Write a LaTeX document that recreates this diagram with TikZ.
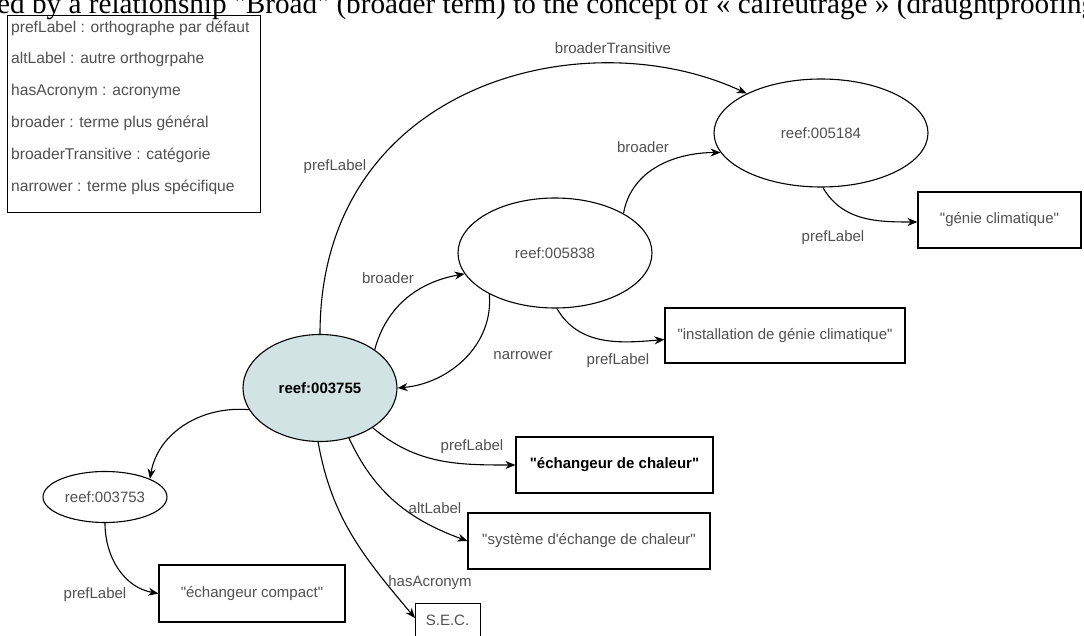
\documentclass[tikz,border=0pt]{standalone}
\usepackage{fontspec}
\setmainfont{Liberation Sans}[Ligatures=TeXOff]
\newfontfamily\pageserif{Liberation Serif}[Ligatures=TeXOff]
\usetikzlibrary{shapes.geometric}
\usetikzlibrary{arrows.meta}
\definecolor{conceptblue}{RGB}{210,227,227}
\definecolor{labelgray}{RGB}{80,80,80}

\begin{document}
\begin{tikzpicture}[x=1pt,y=1pt,
  concept/.style={draw, ellipse, line width=1.1pt, inner sep=0pt, text=labelgray, font=\fontsize{15}{17}\selectfont},
  literal/.style={draw, rectangle, line width=1.1pt, inner sep=0pt, text=labelgray, font=\fontsize{15}{17}\selectfont},
  rel/.style={line width=1.1pt, -{Stealth[length=10pt,width=8pt]}},
  rellabel/.style={text=labelgray, inner sep=0pt, font=\fontsize{15}{17}\selectfont}]
\useasboundingbox (0,0) rectangle (1084,-636);
\clip (0,0) rectangle (1084,-636);
\fill[white] (0,0) rectangle (1084,-636);

% line of the page above, cut by the frame
\node[anchor=base west, inner sep=0pt, font=\pageserif\fontsize{29.2}{30}\selectfont] (header) at (-3,-13.5) {ed by a relationship "Broad" (broader term) to the concept of « calfeutrage » (draughtproofing};

% legend
\node[draw, line width=1.1pt, anchor=north west, minimum width=253, minimum height=197, inner sep=0pt] (legend) at (7,-15) {};
\foreach \txt [count=\i] in {prefLabel : orthographe par défaut, altLabel : autre orthogrpahe, hasAcronym : acronyme, broader : terme plus général, broaderTransitive : catégorie, narrower : terme plus spécifique}
  \node[rellabel, anchor=west, font=\fontsize{15.6}{17}\selectfont] (leg\i) at (11,{-28-31.8*(\i-1)}) {\txt};

% concepts
\node[concept, minimum width=214, minimum height=108] (c5184) at (821,-133) {reef:005184};
\node[concept, minimum width=194, minimum height=110] (c5838) at (555,-253) {reef:005838};
\node[concept, fill=conceptblue, text=black, minimum width=154, minimum height=107, font=\fontsize{15}{17}\selectfont\bfseries] (c3755) at (320,-388) {reef:003755};
\node[concept, minimum width=124, minimum height=51] (c3753) at (105,-497) {reef:003753};

% literals
\node[literal, minimum width=163, minimum height=56] (genie) at (999.5,-220) {"génie climatique"};
\node[literal, minimum width=240, minimum height=55] (install) at (785,-335.5) {"installation de génie climatique"};
\node[literal, text=black, minimum width=197, minimum height=56, font=\fontsize{15}{17}\selectfont\bfseries] (chaleur) at (614.5,-465) {"échangeur de chaleur"};
\node[literal, minimum width=242, minimum height=56] (systeme) at (589,-541) {"système d'échange de chaleur"};
\node[literal, minimum width=186, minimum height=57] (compact) at (252,-593.5) {"échangeur compact"};
\node[literal, anchor=north west, minimum width=65, minimum height=56] (sec) at (415,-603) {};
\node[rellabel] (sectxt) at (447.5,-620) {S.E.C.};

% relations
\draw[rel] (c3755.north) .. controls +(0,250) and +(-163,76) .. (c5184.152);
\node[rellabel] (lbt) at (613,-48) {broaderTransitive};
\node[rellabel] (lpref1) at (335,-167) {prefLabel};

\draw[rel] (c5838.30) to[out=80,in=180] (c5184.191);
\node[rellabel] (lbr1) at (643,-147) {broader};

\draw[rel] (c3755.35) to[out=75,in=190] (c5838.193);
\node[rellabel] (lbr2) at (388,-278) {broader};

\draw[rel] (c5838.212) to[out=-85,in=5] (c3755.east);
\node[rellabel] (lnar) at (523,-356) {narrower};

\draw[rel] (c5838.272) to[out=-60,in=185] ([yshift=-4pt]install.west);
\node[rellabel] (lpref2) at (618,-361) {prefLabel};

\draw[rel] (c5184.272) to[out=-60,in=180] ([yshift=-2pt]genie.west);
\node[rellabel] (lpref3) at (833,-238) {prefLabel};

\draw[rel] (c3755.197) to[out=175,in=80] (c3753.22);

\draw[rel] (c3753.south) to[out=-90,in=170] (compact.west);
\node[rellabel] (lpref4) at (95,-595) {prefLabel};

\draw[rel] (c3755.323) to[out=-40,in=180] (chaleur.west);
\node[rellabel] (lpref5) at (472,-447) {prefLabel};

\draw[rel] (c3755.300) to[out=-65,in=160] (systeme.west);
\node[rellabel] (lalt) at (435,-508) {altLabel};

\draw[rel] (c3755.268) to[out=-80,in=130] ([yshift=-15pt]sec.north west);
\node[rellabel] (lacr) at (430,-583) {hasAcronym};
\end{tikzpicture}
\end{document}
